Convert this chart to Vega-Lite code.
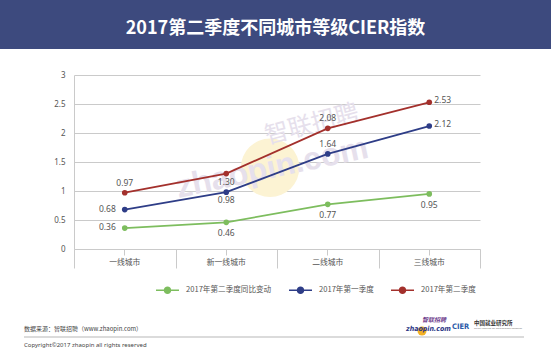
{
  "$schema": "https://vega.github.io/schema/vega-lite/v6.json",
  "background": "white",
  "padding": 0,
  "spacing": 22,
  "config": {"view": {"stroke": null}, "font": "Noto Sans CJK SC"},
  "vconcat": [
    {
      "width": 551,
      "height": 49,
      "view": {"fill": "#3d4a7e", "stroke": null},
      "data": {"values": [{"title": "2017第二季度不同城市等级CIER指数"}]},
      "mark": {"type": "text", "color": "#ffffff", "fontSize": 18, "fontWeight": "bold", "font": "Noto Sans CJK SC", "letterSpacing": 2.6, "dy": 4, "align": "center", "baseline": "middle"},
      "encoding": {"text": {"field": "title", "type": "nominal"}}
    },
    {
      "spacing": 48,
      "vconcat": [
        {
          "spacing": 0,
          "hconcat": [
            {"width": 1, "height": 1, "data": {"values": []}, "mark": "point"},
            {
              "width": 406,
              "height": 174,
              "data": {"values": [
                {"city": "一线城市", "series": "2017年第二季度同比变动", "value": 0.36},
                {"city": "新一线城市", "series": "2017年第二季度同比变动", "value": 0.46},
                {"city": "二线城市", "series": "2017年第二季度同比变动", "value": 0.77},
                {"city": "三线城市", "series": "2017年第二季度同比变动", "value": 0.95},
                {"city": "一线城市", "series": "2017年第一季度", "value": 0.68},
                {"city": "新一线城市", "series": "2017年第一季度", "value": 0.98},
                {"city": "二线城市", "series": "2017年第一季度", "value": 1.64},
                {"city": "三线城市", "series": "2017年第一季度", "value": 2.12},
                {"city": "一线城市", "series": "2017年第二季度", "value": 0.97},
                {"city": "新一线城市", "series": "2017年第二季度", "value": 1.30},
                {"city": "二线城市", "series": "2017年第二季度", "value": 2.08},
                {"city": "三线城市", "series": "2017年第二季度", "value": 2.53}
              ]},
              "encoding": {
                "y": {"field": "value", "type": "quantitative", "scale": {"domain": [0, 3], "nice": false},
                  "axis": {"values": [0, 0.5, 1, 1.5, 2, 2.5, 3], "format": "~g", "title": null, "grid": true, "gridColor": "#cacaca", "gridWidth": 1, "domain": true, "domainColor": "#cacaca", "ticks": false, "labelPadding": 9, "labelFont": "Noto Sans", "labelFontSize": 8, "labelColor": "#555555", "minExtent": 73}},
                "color": {"field": "series", "type": "nominal",
                  "scale": {"domain": ["2017年第二季度同比变动", "2017年第一季度", "2017年第二季度"], "range": ["#7dbd5e", "#2e3d87", "#a3302c"]},
                  "legend": {"orient": "none", "legendX": 155, "legendY": 277.5, "direction": "horizontal", "title": null,
                    "symbolType": "M-1,0H1M-0.26,0A0.26,0.26 0 1,0 0.26,0A0.26,0.26 0 1,0 -0.26,0Z",
                    "symbolSize": 529, "symbolStrokeWidth": 1.5, "labelFontSize": 7.6, "labelColor": "#555555", "labelFont": "Noto Sans CJK SC", "labelOffset": 6, "columnPadding": 14,
                    "encode": {"symbols": {"update": {"fill": {"scale": "color", "field": "value"}, "stroke": {"scale": "color", "field": "value"}, "opacity": {"value": 1}}}}}}
              },
              "layer": [
                {
                  "transform": [{"filter": "datum.city=='一线城市' && datum.series=='2017年第一季度'"}],
                  "mark": {"type": "circle", "size": 3420, "opacity": 1},
                  "encoding": {
                    "x": {"datum": 0.483, "type": "quantitative", "scale": {"domain": [0, 1]}, "axis": null},
                    "y": {"datum": 1.4, "type": "quantitative"},
                    "color": {"value": "#fcf3d3"}
                  }
                },
                {
                  "transform": [{"filter": "datum.city=='一线城市' && datum.series=='2017年第一季度'"}],
                  "mark": {"type": "text", "text": "智联招聘", "fontSize": 24, "letterSpacing": 6, "angle": -15, "align": "center", "baseline": "middle", "font": "Noto Sans CJK SC"},
                  "encoding": {
                    "x": {"datum": 0.586, "type": "quantitative", "scale": {"domain": [0, 1]}, "axis": null},
                    "y": {"datum": 2.14, "type": "quantitative"},
                    "color": {"value": "#e6e0ec"}
                  }
                },
                {
                  "transform": [{"filter": "datum.city=='一线城市' && datum.series=='2017年第一季度'"}],
                  "mark": {"type": "text", "text": "zhaopin.com", "fontSize": 32, "fontWeight": "bold", "angle": -12, "align": "center", "baseline": "middle", "font": "Liberation Sans"},
                  "encoding": {
                    "x": {"datum": 0.488, "type": "quantitative", "scale": {"domain": [0, 1]}, "axis": null},
                    "y": {"datum": 1.4, "type": "quantitative"},
                    "color": {"value": "#e6e0ec"}
                  }
                },
                {
                  "mark": {"type": "line", "strokeWidth": 1.8},
                  "encoding": {
                    "x": {"field": "city", "type": "nominal", "sort": ["一线城市", "新一线城市", "二线城市", "三线城市"], "scale": {"type": "band", "paddingInner": 0, "paddingOuter": 0},
                      "axis": {"orient": "bottom", "title": null, "labelAngle": 0, "labelFont": "Noto Sans CJK SC", "labelFontSize": 7.8, "labelColor": "#555555", "tickSize": 6, "tickColor": "#cacaca", "domainColor": "#cacaca", "labelPadding": 3, "grid": false}}
                  }
                },
                {
                  "mark": {"type": "point", "filled": true, "size": 32, "opacity": 1},
                  "encoding": {
                    "x": {"field": "city", "type": "nominal", "sort": ["一线城市", "新一线城市", "二线城市", "三线城市"], "scale": {"type": "band", "paddingInner": 0, "paddingOuter": 0},
                      "axis": {"orient": "bottom", "title": null, "tickBand": "extent", "tickSize": 19, "tickColor": "#cacaca", "labels": false, "domain": false, "grid": false}}
                  }
                },
                {
                  "transform": [{"filter": "(datum.series=='2017年第二季度' && (datum.city=='一线城市' || datum.city=='二线城市')) || (datum.series=='2017年第一季度' && datum.city=='二线城市')"}],
                  "mark": {"type": "text", "dy": -10, "align": "center", "baseline": "middle", "font": "Noto Sans", "fontSize": 8.5},
                  "encoding": {
                    "x": {"field": "city", "type": "nominal", "sort": ["一线城市", "新一线城市", "二线城市", "三线城市"], "scale": {"type": "band", "domain": ["一线城市", "新一线城市", "二线城市", "三线城市"], "paddingInner": 0, "paddingOuter": 0}, "axis": null},
                    "text": {"field": "value", "type": "quantitative", "format": ".2f"},
                    "color": {"value": "#555555"}
                  }
                },
                {
                  "transform": [{"filter": "datum.city=='一线城市' && datum.series!='2017年第二季度'"}],
                  "mark": {"type": "text", "dx": -9, "dy": -1, "align": "right", "baseline": "middle", "font": "Noto Sans", "fontSize": 8.5},
                  "encoding": {
                    "x": {"field": "city", "type": "nominal", "sort": ["一线城市", "新一线城市", "二线城市", "三线城市"], "scale": {"type": "band", "domain": ["一线城市", "新一线城市", "二线城市", "三线城市"], "paddingInner": 0, "paddingOuter": 0}, "axis": null},
                    "text": {"field": "value", "type": "quantitative", "format": ".2f"},
                    "color": {"value": "#555555"}
                  }
                },
                {
                  "transform": [{"filter": "datum.city=='三线城市' && datum.series!='2017年第二季度同比变动'"}],
                  "mark": {"type": "text", "dx": 5, "dy": -2, "align": "left", "baseline": "middle", "font": "Noto Sans", "fontSize": 8.5},
                  "encoding": {
                    "x": {"field": "city", "type": "nominal", "sort": ["一线城市", "新一线城市", "二线城市", "三线城市"], "scale": {"type": "band", "domain": ["一线城市", "新一线城市", "二线城市", "三线城市"], "paddingInner": 0, "paddingOuter": 0}, "axis": null},
                    "text": {"field": "value", "type": "quantitative", "format": ".2f"},
                    "color": {"value": "#555555"}
                  }
                },
                {
                  "transform": [{"filter": "datum.city=='新一线城市' && datum.series!='2017年第二季度同比变动'"}],
                  "mark": {"type": "text", "dy": 8, "align": "center", "baseline": "middle", "font": "Noto Sans", "fontSize": 8.5},
                  "encoding": {
                    "x": {"field": "city", "type": "nominal", "sort": ["一线城市", "新一线城市", "二线城市", "三线城市"], "scale": {"type": "band", "domain": ["一线城市", "新一线城市", "二线城市", "三线城市"], "paddingInner": 0, "paddingOuter": 0}, "axis": null},
                    "text": {"field": "value", "type": "quantitative", "format": ".2f"},
                    "color": {"value": "#555555"}
                  }
                },
                {
                  "transform": [{"filter": "datum.series=='2017年第二季度同比变动' && datum.city!='一线城市'"}],
                  "mark": {"type": "text", "dy": 11, "align": "center", "baseline": "middle", "font": "Noto Sans", "fontSize": 8.5},
                  "encoding": {
                    "x": {"field": "city", "type": "nominal", "sort": ["一线城市", "新一线城市", "二线城市", "三线城市"], "scale": {"type": "band", "domain": ["一线城市", "新一线城市", "二线城市", "三线城市"], "paddingInner": 0, "paddingOuter": 0}, "axis": null},
                    "text": {"field": "value", "type": "quantitative", "format": ".2f"},
                    "color": {"value": "#555555"}
                  }
                }
              ],
              "resolve": {"axis": {"x": "independent"}, "scale": {"x": "independent"}}
            }
          ]
        },
        {
          "spacing": 0,
          "hconcat": [
            {"width": 23, "height": 1, "data": {"values": []}, "mark": "point"},
            {
              "width": 500,
              "height": 14,
              "data": {"values": [{"source": "数据来源：智联招聘（www.zhaopin.com）", "copyright": "Copyright©2017 zhaopin all rights reserved", "zp": "zhaopin.com", "zl": "智联招聘", "cier": "CIER", "cn": "中国就业研究所", "en": "China Institute for Employment Research"}]},
              "encoding": {
                "x": {"datum": 0, "type": "quantitative", "scale": {"domain": [0, 1]}, "axis": null},
                "y": {"datum": 0, "type": "quantitative", "scale": {"domain": [0, 1]}, "axis": null}
              },
              "layer": [
                {
                  "mark": {"type": "rule", "color": "#cfcfcf", "strokeWidth": 1.5},
                  "encoding": {"x2": {"datum": 1}}
                },
                {
                  "mark": {"type": "text", "align": "left", "baseline": "middle", "dy": -8, "fontSize": 6, "color": "#444444", "font": "Noto Sans CJK SC"},
                  "encoding": {"text": {"field": "source"}}
                },
                {
                  "mark": {"type": "text", "align": "left", "baseline": "middle", "dy": 8, "fontSize": 6, "color": "#444444", "font": "Noto Sans"},
                  "encoding": {"text": {"field": "copyright"}}
                },
                {
                  "mark": {"type": "circle", "size": 80, "opacity": 1, "color": "#f3b124"},
                  "encoding": {
                    "x": {"datum": 0.796, "type": "quantitative", "axis": null},
                    "y": {"datum": 0.43, "type": "quantitative", "axis": null}
                  }
                },
                {
                  "mark": {"type": "text", "align": "left", "baseline": "middle", "fontSize": 7, "fontWeight": "bold", "fontStyle": "italic", "color": "#2a3585", "font": "Liberation Sans Narrow, DejaVu Sans Condensed, Liberation Sans"},
                  "encoding": {
                    "x": {"datum": 0.764, "type": "quantitative", "axis": null},
                    "y": {"datum": 0.57, "type": "quantitative", "axis": null},
                    "text": {"field": "zp"}
                  }
                },
                {
                  "mark": {"type": "text", "align": "left", "baseline": "middle", "fontSize": 6, "fontWeight": "bold", "fontStyle": "italic", "color": "#6d3a8c", "font": "Noto Sans CJK SC"},
                  "encoding": {
                    "x": {"datum": 0.796, "type": "quantitative", "axis": null},
                    "y": {"datum": 1.2, "type": "quantitative", "axis": null},
                    "text": {"field": "zl"}
                  }
                },
                {
                  "mark": {"type": "text", "align": "left", "baseline": "middle", "fontSize": 7.5, "fontWeight": "bold", "color": "#2b5aa8", "font": "Liberation Sans Narrow, DejaVu Sans Condensed, Liberation Sans"},
                  "encoding": {
                    "x": {"datum": 0.856, "type": "quantitative", "axis": null},
                    "y": {"datum": 0.71, "type": "quantitative", "axis": null},
                    "text": {"field": "cier"}
                  }
                },
                {
                  "mark": {"type": "text", "align": "left", "baseline": "middle", "fontSize": 5.5, "fontWeight": "bold", "color": "#333333", "font": "Noto Sans CJK SC"},
                  "encoding": {
                    "x": {"datum": 0.9, "type": "quantitative", "axis": null},
                    "y": {"datum": 1.0, "type": "quantitative", "axis": null},
                    "text": {"field": "cn"}
                  }
                },
                {
                  "mark": {"type": "text", "align": "left", "baseline": "middle", "fontSize": 2.5, "color": "#777777", "font": "Noto Sans"},
                  "encoding": {
                    "x": {"datum": 0.9, "type": "quantitative", "axis": null},
                    "y": {"datum": 0.66, "type": "quantitative", "axis": null},
                    "text": {"field": "en"}
                  }
                }
              ]
            }
          ]
        }
      ]
    }
  ]
}
